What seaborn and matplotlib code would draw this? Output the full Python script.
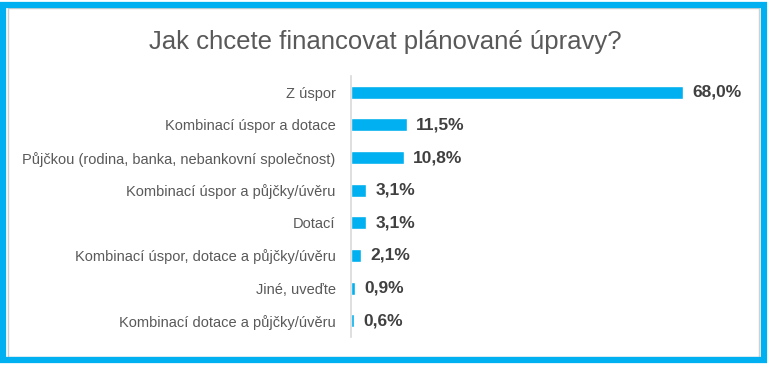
import matplotlib
matplotlib.use("Agg")
import matplotlib.pyplot as plt
import seaborn as sns
import pandas as pd
from matplotlib.patches import Rectangle

categories = [
    "Z úspor",
    "Kombinací úspor a dotace",
    "Půjčkou (rodina, banka, nebankovní společnost)",
    "Kombinací úspor a půjčky/úvěru",
    "Dotací",
    "Kombinací úspor, dotace a půjčky/úvěru",
    "Jiné, uveďte",
    "Kombinací dotace a půjčky/úvěru",
]
values = [68.0, 11.5, 10.8, 3.1, 3.1, 2.1, 0.9, 0.6]
value_labels = ["68,0%", "11,5%", "10,8%", "3,1%", "3,1%", "2,1%", "0,9%", "0,6%"]
title = "Jak chcete financovat plánované úpravy?"

sns.set_theme(style="white")
plt.rcParams["font.family"] = ["Liberation Sans", "DejaVu Sans"]

df = pd.DataFrame({"cat": categories, "val": values})

W, H = 771, 366
fig = plt.figure(figsize=(W / 100, H / 100), dpi=100)
fig.patch.set_facecolor("white")

ax = fig.add_axes([351 / W, (H - 337) / H, 400 / W, 261 / H])
sns.barplot(data=df, y="cat", x="val", orient="h", color="#00B0F0",
            saturation=1, width=0.4, ax=ax)
ax.set_xlim(0, 82)
ax.set_ylim(7.5, -0.5)
ax.set_xlabel("")
ax.set_ylabel("")
ax.set_xticks([])
for s in ["top", "right", "bottom"]:
    ax.spines[s].set_visible(False)
ax.spines["left"].set_color("#D9D9D9")
ax.spines["left"].set_linewidth(1.2)
ax.tick_params(axis="y", length=0, pad=11, labelsize=10.5, labelcolor="#595959")

for i, (v, lab) in enumerate(zip(values, value_labels)):
    ax.text(v + 1.9, i, lab, va="center", ha="left", fontsize=12.5,
            fontweight="bold", color="#404040")

fig.text(385 / W, 1 - 42 / H, title, ha="center", va="center",
         fontsize=18.5, color="#595959")

# subtle shadow line and blue frame
fig.patches.append(Rectangle((8 / W, 9 / H), (W - 20) / W, (H - 17) / H,
                             transform=fig.transFigure, fill=False,
                             edgecolor="#D0D0D0", linewidth=1.0))
fig.patches.append(Rectangle((3 / W, 6 / H), 761 / W, 355 / H,
                             transform=fig.transFigure, fill=False,
                             edgecolor="#00B0F0", linewidth=4.5))

fig.savefig("out.png", dpi=100, facecolor="white")
